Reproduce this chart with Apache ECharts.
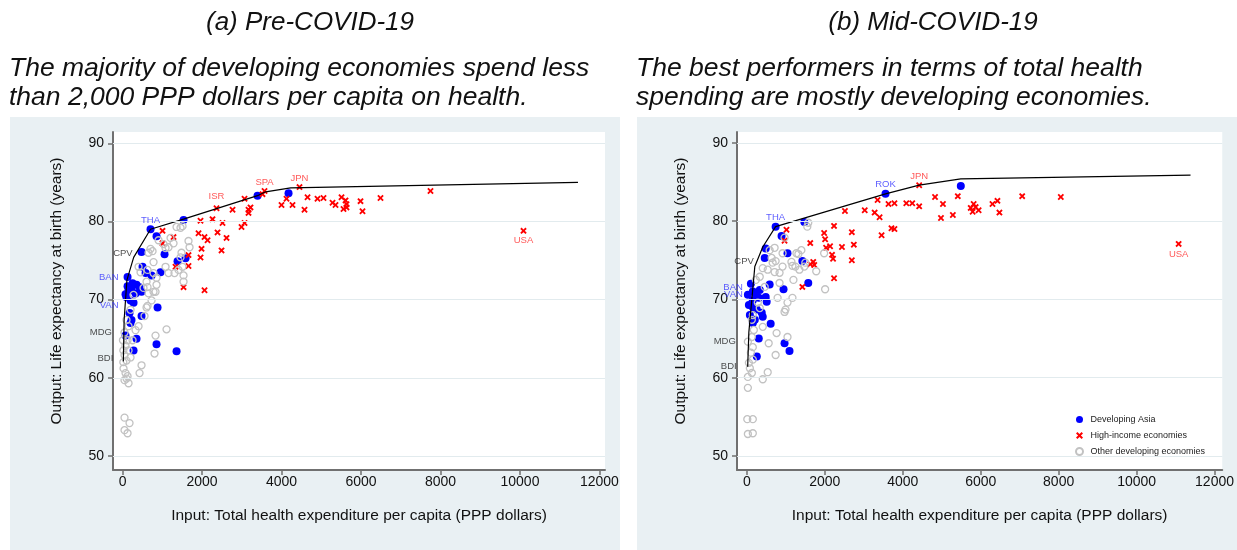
<!DOCTYPE html>
<html>
<head>
<meta charset="utf-8">
<title>Health spending and life expectancy</title>
<script src="https://cdn.jsdelivr.net/npm/echarts@6/dist/echarts.min.js"></script>
<style>
  html, body { margin: 0; padding: 0; background: #fff; }
  #main { width: 1237px; height: 550px; }
</style>
</head>
<body>
<div id="main"></div>
<script>
// axis ticks
const xTicks = [0, 2000, 4000, 6000, 8000, 10000, 12000];
const yTicks = [50, 60, 70, 80, 90];

// (a) pre-COVID-19 -- [health spending per capita (PPP $), life expectancy]
const asiaA = [
  [704, 79.0], [855, 78.1], [1535, 80.2], [3397, 83.3], [4177, 83.6], [1057, 75.8], [478, 76.1],
  [1384, 74.9], [1585, 75.3], [956, 73.5], [579, 73.4], [730, 73.1], [503, 74.2], [126, 72.9],
  [252, 72.1], [352, 71.9], [428, 71.6], [226, 71.2], [151, 71.2], [327, 70.8], [478, 71.0],
  [100, 70.3], [201, 69.9], [277, 69.6], [881, 69.0], [478, 67.9], [176, 68.3], [226, 67.4],
  [201, 67.0], [352, 65.0], [855, 64.3], [277, 63.5], [1359, 63.4], [75, 65.4], [75, 70.7], [126, 71.7]
];
const highA = [
  [1006, 78.8], [1006, 77.2], [1283, 78.0], [1660, 75.7], [1660, 74.3], [1333, 74.2], [1535, 71.6],
  [2063, 71.2], [1962, 80.1], [1912, 78.5], [2063, 78.0], [2139, 77.6], [1988, 76.5], [1962, 75.4],
  [2264, 80.3], [2390, 78.6], [2516, 79.8], [2617, 77.9], [2491, 76.3], [2365, 81.7], [2768, 81.5],
  [3070, 82.9], [3220, 81.8], [3170, 81.5], [3170, 81.1], [3070, 79.8], [2994, 79.3], [3573, 83.9],
  [3522, 83.5], [4000, 82.1], [4126, 82.9], [4277, 82.1], [4453, 84.4], [4579, 81.5], [4655, 83.1],
  [4906, 82.9], [5057, 83.0], [5284, 82.4], [5359, 82.1], [5510, 83.1], [5611, 82.7], [5636, 82.2],
  [5560, 81.6], [5636, 81.8], [5988, 82.6], [6038, 81.3], [6491, 83.0], [7749, 83.9], [10089, 78.8]
];
const otherA = [
  [1359, 79.3], [1510, 79.4], [1459, 79.2], [1208, 77.9], [1283, 77.2], [1157, 76.7], [1686, 76.7],
  [906, 77.6], [704, 76.5], [755, 76.2], [654, 76.0], [1032, 77.1], [1082, 76.6], [780, 74.8],
  [1082, 74.2], [403, 74.2], [453, 73.5], [1510, 74.2], [1535, 73.1], [1535, 72.3], [629, 71.6],
  [780, 71.0], [855, 71.9], [629, 73.8], [780, 73.4], [855, 72.8], [604, 72.3], [528, 71.5],
  [654, 70.8], [830, 71.0], [604, 69.0], [730, 69.9], [1157, 73.4], [1308, 73.4], [1409, 73.8],
  [1484, 76.0], [1459, 75.4], [1660, 77.5], [629, 69.2], [553, 67.9], [403, 66.6], [830, 65.4],
  [1107, 66.2], [805, 63.1], [478, 61.6], [428, 60.6], [25, 61.2], [75, 60.6], [100, 59.9],
  [151, 59.3], [50, 59.7], [126, 60.2], [50, 54.9], [176, 54.2], [50, 53.3], [126, 52.9],
  [100, 67.4], [151, 66.6], [50, 65.8], [126, 64.8], [75, 64.1], [151, 63.5], [50, 62.9],
  [100, 62.2], [201, 62.6], [20, 62.0], [252, 64.8], [327, 66.1], [201, 68.7], [277, 70.6],
  [10, 64.8], [20, 63.5]
];
const frontierA = [
  [20, 62.1], [40, 67.4], [110, 72.5], [280, 75.4], [704, 79.0], [1535, 80.3],
  [3397, 83.3], [3600, 83.8], [4230, 84.3], [11460, 85.0]
];
const namedA = [
  ['THA', 704, 79.0], ['CPV', 280, 75.4], ['BAN', 126, 72.9], ['VAN', 75, 69.3],
  ['MDG', 10, 65.8], ['BDI', 20, 62.1], ['ISR', 2365, 81.7], ['SPA', 3573, 83.9],
  ['JPN', 4453, 84.4], ['USA', 10089, 78.8]
];

// (b) mid-COVID-19
const asiaB = [
  [737, 79.3], [1474, 79.9], [3557, 83.5], [5489, 84.5], [889, 78.1], [483, 76.5], [457, 75.3],
  [1042, 75.9], [1423, 74.9], [1575, 72.1], [940, 71.3], [483, 70.3], [102, 72.0], [152, 71.0],
  [229, 70.7], [330, 71.2], [305, 70.2], [152, 69.9], [25, 70.6], [508, 69.7], [152, 69.0],
  [254, 68.7], [381, 68.3], [407, 67.8], [152, 67.0], [610, 66.9], [305, 65.0], [966, 64.4],
  [1093, 63.4], [254, 62.7], [203, 67.4], [76, 68.0], [584, 71.9], [51, 69.3]
];
const highB = [
  [1016, 78.9], [966, 77.5], [1626, 77.2], [1982, 78.5], [2007, 77.7], [2236, 79.4], [2134, 76.8],
  [2033, 76.6], [2185, 75.7], [2211, 75.2], [2439, 76.7], [2693, 78.6], [2744, 77.0], [2693, 75.0],
  [2516, 81.3], [3024, 81.4], [3278, 81.1], [3405, 80.5], [3354, 82.7], [3634, 82.2], [3786, 82.3],
  [3710, 79.1], [3786, 79.0], [3456, 78.2], [4091, 82.3], [4243, 82.3], [4421, 81.9], [4421, 84.6],
  [4828, 83.1], [5031, 82.2], [4980, 80.4], [5285, 80.8], [5412, 83.2], [5819, 82.2], [5743, 81.7],
  [5793, 81.2], [5870, 81.8], [5946, 81.4], [6302, 82.2], [6429, 82.6], [6480, 81.1], [7064, 83.2],
  [8055, 83.1], [11079, 77.1], [2236, 72.7], [1423, 71.6], [1702, 74.8], [1626, 74.5], [1728, 74.4]
];
const otherB = [
  [1550, 79.3], [1575, 79.8], [966, 77.9], [1398, 76.3], [1271, 75.9], [635, 75.3], [737, 74.9],
  [661, 74.7], [407, 74.0], [534, 73.8], [711, 73.5], [838, 73.4], [1143, 74.8], [1169, 74.3],
  [1245, 74.2], [1499, 74.7], [1779, 73.6], [1982, 75.9], [1194, 72.5], [788, 70.2], [1169, 70.2],
  [2007, 71.3], [966, 68.4], [407, 66.5], [762, 65.7], [559, 64.4], [1042, 65.2], [737, 62.9],
  [534, 60.7], [407, 59.8], [25, 58.7], [10, 54.7], [152, 54.7], [25, 52.8], [152, 52.9],
  [330, 72.9], [457, 71.6], [152, 68.0], [127, 67.4], [915, 74.2], [1347, 73.8], [1474, 74.2],
  [1042, 69.6], [991, 68.7], [838, 72.1], [584, 76.3], [711, 76.6], [915, 75.9], [1321, 75.8],
  [25, 60.1], [127, 60.6], [76, 61.2], [51, 61.9], [152, 62.3], [102, 63.2], [152, 63.9],
  [25, 64.6], [127, 65.2], [178, 66.1], [229, 72.5], [280, 69.6], [330, 68.9]
];
const frontierB = [
  [20, 61.4], [50, 65.8], [203, 74.2], [407, 76.7], [737, 79.3], [3557, 83.5],
  [4421, 84.6], [5489, 85.4], [11384, 85.9]
];
const namedB = [
  ['THA', 737, 79.3], ['ROK', 3557, 83.5], ['JPN', 4421, 84.6], ['USA', 11079, 77.1],
  ['CPV', 203, 74.2], ['BAN', 102, 72.0], ['VAN', 25, 70.6], ['MDG', 25, 64.6], ['BDI', 20, 61.4]
];

const FONT = 'Liberation Sans, Arial, sans-serif';
const BLUE = '#0000ff', RED = '#ff0000', GRAY = '#c2c2c2';
const CROSS = 'path://M0,2 L2,0 L5,3 L8,0 L10,2 L7,5 L10,8 L8,10 L5,7 L2,10 L0,8 L3,5 Z';

// where each country code sits relative to its point
const labelPlace = {
  a: {
    THA: { position: 'top', distance: 4 }, CPV: { position: 'left', distance: 1, offset: [0, -4] },
    BAN: { position: 'left', distance: 9 }, VAN: { position: 'left', distance: 7 },
    MDG: { position: 'left', distance: 11 }, BDI: { position: 'left', distance: 10, offset: [0, -3] },
    ISR: { position: 'top', distance: 7 }, SPA: { position: 'top', distance: 4 },
    JPN: { position: 'top', distance: 4 }, USA: { position: 'bottom', distance: 5 }
  },
  b: {
    THA: { position: 'top', distance: 4 }, ROK: { position: 'top', distance: 4 },
    JPN: { position: 'top', distance: 4 }, USA: { position: 'bottom', distance: 5 },
    CPV: { position: 'left', distance: 1, offset: [0, -5] }, BAN: { position: 'left', distance: 8, offset: [0, 4] },
    VAN: { position: 'left', distance: 5 }, MDG: { position: 'left', distance: 12 },
    BDI: { position: 'left', distance: 11 }
  }
};
const labelColor = { THA: '#3535ff', ROK: '#3535ff', BAN: '#3535ff', VAN: '#3535ff',
  ISR: '#ff3030', SPA: '#ff3030', JPN: '#ff3030', USA: '#ff3030' };

function panel(i, key, asia, high, other, frontier, named) {
  return [
    {
      name: 'Developing Asia', type: 'scatter', xAxisIndex: i, yAxisIndex: i,
      symbol: 'circle', symbolSize: 8, itemStyle: { color: BLUE, opacity: 1 }, data: asia,
      markLine: {
        silent: true, symbol: 'none', label: { show: false },
        lineStyle: { color: '#e2ebee', width: 1, type: 'solid' },
        data: yTicks.map(v => ({ yAxis: v }))
      }
    },
    {
      name: 'High-income economies', type: 'scatter', xAxisIndex: i, yAxisIndex: i,
      symbol: CROSS, symbolSize: 6.5, itemStyle: { color: RED, opacity: 1 }, data: high
    },
    {
      name: 'Other developing economies', type: 'scatter', xAxisIndex: i, yAxisIndex: i,
      symbol: 'circle', symbolSize: 7,
      itemStyle: { color: 'rgba(0,0,0,0)', borderColor: GRAY, borderWidth: 1.3, opacity: 1 }, data: other
    },
    {
      name: 'frontier', type: 'line', xAxisIndex: i, yAxisIndex: i, symbol: 'none', silent: true,
      lineStyle: { color: '#000', width: 1.2 }, data: frontier, z: 4
    },
    {
      name: 'labels', type: 'scatter', xAxisIndex: i, yAxisIndex: i, symbolSize: 0, silent: true, z: 5,
      data: named.map(d => ({
        name: d[0], value: [d[1], d[2]],
        label: Object.assign({
          show: true, formatter: '{b}', fontSize: 9.5, fontFamily: FONT,
          color: labelColor[d[0]] || '#222'
        }, labelPlace[key][d[0]])
      }))
    }
  ];
}

function xAxis(i, min, max) {
  return {
    type: 'value', gridIndex: i, min: min, max: max,
    name: 'Input: Total health expenditure per capita (PPP dollars)',
    nameLocation: 'middle', nameGap: 38,
    nameTextStyle: { fontSize: 15.5, fontFamily: FONT, color: '#111' },
    axisLine: { onZero: false, lineStyle: { color: '#707070', width: 2 } },
    axisTick: { length: 5, customValues: xTicks, lineStyle: { color: '#707070', width: 1.5 } },
    axisLabel: { customValues: xTicks, formatter: v => String(v), margin: 5,
      fontSize: 14, fontFamily: FONT, color: '#111' },
    splitLine: { show: false }
  };
}
function yAxis(i, min, max) {
  return {
    type: 'value', gridIndex: i, min: min, max: max,
    name: 'Output: Life expectancy at birth (years)',
    nameLocation: 'middle', nameGap: 48,
    nameTextStyle: { fontSize: 15.5, fontFamily: FONT, color: '#111', padding: [0, 0, 0, 20] },
    axisLine: { show: true, onZero: false, lineStyle: { color: '#707070', width: 2 } },
    axisTick: { show: true, length: 5, customValues: yTicks, lineStyle: { color: '#707070', width: 1.5 } },
    axisLabel: { customValues: yTicks, margin: 9, fontSize: 14, fontFamily: FONT, color: '#111' },
    splitLine: { show: false }
  };
}

function heading(x, text, align) {
  return {
    type: 'text', x: x, y: 23,
    style: { text: text, align: align, verticalAlign: 'middle', fontSize: 26, fontStyle: 'italic',
      fontFamily: FONT, fill: '#111' }
  };
}
function subheading(x, text) {
  return {
    type: 'text', x: x, y: 54,
    style: { text: text, align: 'left', verticalAlign: 'top', fontSize: 26.5, lineHeight: 29,
      fontStyle: 'italic', fontFamily: FONT, fill: '#111' }
  };
}

const chart = echarts.init(document.getElementById('main'));
chart.setOption({
  backgroundColor: '#fff',
  animation: false,
  textStyle: { fontFamily: FONT },
  graphic: [
    { type: 'rect', z: -10, shape: { x: 10, y: 117, width: 610, height: 433 }, style: { fill: '#e9f0f3' } },
    { type: 'rect', z: -10, shape: { x: 637, y: 117, width: 600, height: 433 }, style: { fill: '#e9f0f3' } },
    heading(310, '(a) Pre-COVID-19', 'center'),
    heading(933, '(b) Mid-COVID-19', 'center'),
    subheading(9, 'The majority of developing economies spend less\nthan 2,000 PPP dollars per capita on health.'),
    subheading(636, 'The best performers in terms of total health\nspending are mostly developing economies.')
  ],
  grid: [
    { left: 113, top: 132, width: 492, height: 338, show: true, backgroundColor: '#fff', borderWidth: 0 },
    { left: 737, top: 132, width: 490, height: 338, show: true, backgroundColor: '#fff', borderWidth: 0 }
  ],
  xAxis: [xAxis(0, -240, 12140), xAxis(1, -254, 12198)],
  yAxis: [yAxis(0, 48.2, 91.45), yAxis(1, 48.2, 91.4)],
  legend: {
    data: ['Developing Asia', 'High-income economies', 'Other developing economies'],
    orient: 'vertical', left: 1071, top: 412, padding: [3, 6, 3, 4],
    backgroundColor: '#fff', itemWidth: 12, itemHeight: 7, itemGap: 7,
    textStyle: { fontSize: 9, fontFamily: FONT, color: '#222' }
  },
  series: panel(0, 'a', asiaA, highA, otherA, frontierA, namedA)
    .concat(panel(1, 'b', asiaB, highB, otherB, frontierB, namedB))
});
</script>
</body>
</html>
